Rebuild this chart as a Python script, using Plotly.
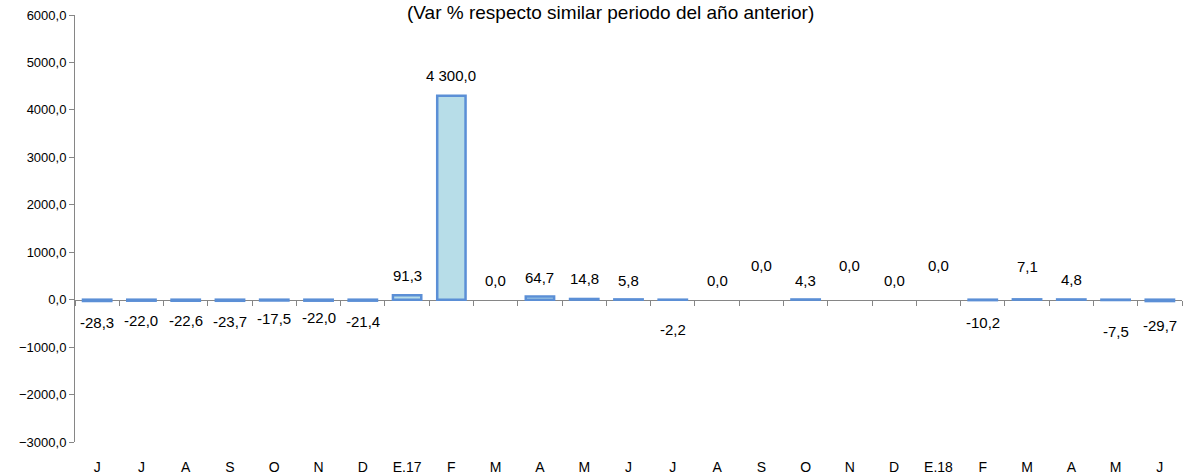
import plotly.graph_objects as go

categories = ["J", "J", "A", "S", "O", "N", "D", "E.17", "F", "M", "A", "M",
              "J", "J", "A", "S", "O", "N", "D", "E.18", "F", "M", "A", "M", "J"]
values = [-28.3, -22.0, -22.6, -23.7, -17.5, -22.0, -21.4, 91.3, 4300.0, 0.0,
          64.7, 14.8, 5.8, -2.2, 0.0, 0.0, 4.3, 0.0, 0.0, 0.0, -10.2, 7.1,
          4.8, -7.5, -29.7]
title_text = "(Var % respecto similar periodo del año anterior)"

# label offsets (pixels) relative to bar end, as placed in the original
label_shift = [-21, -20, -20, -21, -18, -17, -21, 20, 20, 19, 19, 20, 19, -30,
               19, 34, 19, 34, 19, 34, -22, 33, 20, -31, -24]

# unique x positions so repeated month letters stay separate
xkeys = [f"{i}" for i in range(len(categories))]

FONT = "Liberation Sans, Arial, sans-serif"
AXIS_COLOR = "#868686"


def fmt(v):
    s = f"{v:,.1f}"
    return s.replace(",", " ").replace(".", ",")


# zero-height bars show no outline (as in the original)
line_widths = [0 if v == 0 else 2.5 for v in values]

fig = go.Figure()
fig.add_trace(go.Bar(
    x=xkeys, y=values,
    marker=dict(color="#b7dde8", line=dict(color="#5b8fd6", width=line_widths)),
    width=0.64, hoverinfo="skip", showlegend=False,
    xaxis="x", yaxis="y",
))
# invisible carrier for the zero-line axis with boundary ticks
fig.add_trace(go.Scatter(
    x=xkeys, y=[0] * len(xkeys), mode="markers", marker=dict(opacity=0),
    hoverinfo="skip", showlegend=False, xaxis="x2", yaxis="y",
))

for xk, v, sh in zip(xkeys, values, label_shift):
    fig.add_annotation(x=xk, y=v, xref="x", yref="y", text=fmt(v),
                       showarrow=False, yanchor="middle", yshift=sh,
                       font=dict(family=FONT, size=15, color="#000000"))

fig.add_annotation(x=0.484, y=1, xref="paper", yref="paper", text=title_text,
                   showarrow=False, yanchor="middle", yshift=3,
                   font=dict(family=FONT, size=19, color="#000000"))

fig.update_layout(
    width=1186, height=475,
    margin=dict(l=75, r=4, t=15, b=33),
    paper_bgcolor="white", plot_bgcolor="white",
    separators=", ",
    font=dict(family=FONT, size=13, color="#000000"),
    xaxis=dict(
        type="category", tickmode="array", tickvals=xkeys, ticktext=categories,
        showline=False, ticks="outside", ticklen=12, tickcolor="rgba(0,0,0,0)",
        showgrid=False, zeroline=False, tickfont=dict(size=14),
        range=[-0.5, len(xkeys) - 0.5], automargin=False,
    ),
    xaxis2=dict(
        type="category", overlaying="x", anchor="free", position=1/3,
        matches="x", showline=True, linecolor=AXIS_COLOR, linewidth=1,
        ticks="outside", tickson="boundaries", ticklen=5, tickcolor=AXIS_COLOR,
        showticklabels=False, showgrid=False, zeroline=False,
        layer="below traces",
    ),
    yaxis=dict(
        range=[-3000, 6000], dtick=1000, tick0=0, tickformat=".1f",
        showline=True, linecolor=AXIS_COLOR, linewidth=1,
        ticks="outside", ticklen=5, tickcolor=AXIS_COLOR,
        showgrid=False, zeroline=False, tickfont=dict(size=13),
        automargin=False,
    ),
)

fig.write_html(
    "out.html",
    config={"displayModeBar": False},
    post_script="document.body.style.margin='0';document.body.style.overflow='hidden';",
)
